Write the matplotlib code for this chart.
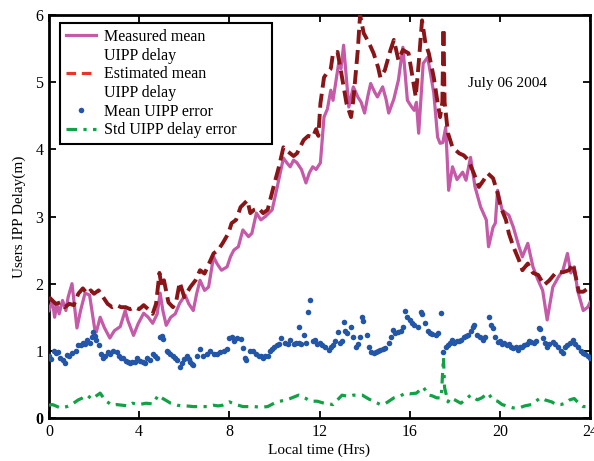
import matplotlib
matplotlib.use("Agg")
import matplotlib.pyplot as plt
from matplotlib.lines import Line2D

# ---------------- data ----------------
meas_t = [0.0, 0.15, 0.25, 0.35, 0.45, 0.6, 0.75, 0.85, 1.02, 1.24, 1.4, 1.6, 1.8, 2.04, 2.1, 2.27, 2.45, 2.7, 2.9,
          3.16, 3.38, 3.5, 3.75, 3.95, 4.2, 4.4, 4.6, 4.8, 4.93, 5.05, 5.2, 5.4, 5.6, 5.8, 6.04, 6.2, 6.4, 6.55, 6.7,
          6.9, 7.08, 7.3, 7.45, 7.65, 7.9, 8.05, 8.2, 8.4, 8.6, 8.85, 9.0, 9.2, 9.4, 9.6, 9.9, 10.1, 10.4, 10.55,
          10.7, 10.85, 11.0, 11.2, 11.4, 11.55, 11.7, 11.85, 12.04, 12.2, 12.35, 12.5, 12.6, 12.85, 12.95, 13.07,
          13.3, 13.5, 13.7, 13.85, 14.0, 14.15, 14.27, 14.45, 14.57, 14.8, 14.95, 15.07, 15.3, 15.5, 15.7, 15.9,
          16.05, 16.2, 16.3, 16.4, 16.6, 16.8, 17.07, 17.24, 17.35, 17.47, 17.6, 17.73, 17.9, 18.1, 18.35, 18.5,
          18.7, 18.9, 19.15, 19.4, 19.5, 19.7, 19.8, 19.9, 20.1, 20.27, 20.4, 20.6, 20.85, 21.0, 21.24, 21.47,
          21.7, 21.9, 22.1, 22.35, 22.6, 22.8, 23.0, 23.15, 23.3, 23.45, 23.7, 23.9, 24.0]
meas_v = [1.6, 1.75, 1.5, 1.7, 1.55, 1.75, 1.6, 1.8, 2.0, 1.34, 1.6, 1.86, 1.83, 1.3, 1.28, 1.5, 1.35, 1.19, 1.3,
          1.36, 1.6, 1.45, 1.23, 1.4, 1.56, 1.5, 1.41, 1.55, 1.86, 1.6, 1.38, 1.5, 1.55, 1.71, 1.83, 1.7, 1.6, 1.85,
          2.05, 1.9, 1.95, 2.4, 2.3, 2.2, 2.25, 2.4, 2.5, 2.55, 2.8, 2.7, 2.75, 3.05, 2.95, 3.0, 3.1, 3.4, 3.87, 3.8,
          3.74, 3.84, 3.8, 3.7, 3.5, 3.65, 3.74, 3.7, 3.8, 4.48, 4.6, 4.88, 4.73, 5.28, 5.2, 5.55,
          4.63, 4.93, 4.78, 4.7, 4.54, 4.8, 4.98, 4.85, 4.78, 4.93, 4.75, 4.54, 4.75, 5.03, 5.52, 4.73,
          4.65, 4.58, 4.7, 4.24, 5.28, 5.37, 4.84, 4.18, 4.09, 4.1, 4.33, 3.39, 3.74, 3.55, 3.66, 3.54,
          3.88, 3.44, 3.14, 2.95, 2.55, 2.84, 2.9, 3.39, 3.1, 3.05, 3.02, 2.84, 2.55, 2.4, 2.6, 2.25,
          2.05, 1.9, 1.46, 1.95, 2.1, 2.2, 2.45, 2.16, 2.25, 1.9, 1.6, 1.65, 1.72]

est_t = [0.0, 0.15, 0.3, 0.5, 0.7, 0.9, 1.1, 1.3, 1.5, 1.7, 1.85, 2.0, 2.2, 2.44, 2.6, 2.8, 3.0, 3.2, 3.4, 3.6, 3.8,
         4.0, 4.2, 4.4, 4.6, 4.75, 4.9, 5.0, 5.1, 5.3, 5.5, 5.65, 5.8, 6.0, 6.27, 6.5, 6.7, 6.9, 7.1, 7.3, 7.5,
         7.7, 7.96, 8.1, 8.3, 8.5, 8.8, 8.93, 9.1, 9.3, 9.5, 9.7, 9.96, 10.2, 10.4, 10.55, 10.7, 10.85, 11.0,
         11.3, 11.5, 11.7, 11.85, 11.95, 12.04, 12.2, 12.35, 12.5, 12.6, 12.8, 13.0, 13.2, 13.4, 13.5, 13.7,
         13.8, 13.96, 14.2, 14.4, 14.6, 14.7, 14.9, 15.15, 15.3, 15.5, 15.7, 15.95, 16.1, 16.27, 16.4, 16.55,
         16.7, 16.85, 17.07, 17.2, 17.35, 17.45, 17.5, 17.55, 17.7, 17.9, 18.2, 18.4, 18.6, 18.85, 19.07, 19.3,
         19.47, 19.7, 19.9, 20.04, 20.27, 20.4, 20.6, 20.85, 21.0, 21.24, 21.47, 21.7, 21.96, 22.2, 22.5, 22.8,
         23.07, 23.24, 23.4, 23.5, 23.7, 24.0]
est_v = [1.8, 1.75, 1.7, 1.72, 1.65, 1.7, 1.68, 1.85, 1.93, 1.85, 1.9, 1.85, 1.9, 1.78, 1.7, 1.65, 1.68, 1.65, 1.65,
         1.62, 1.65, 1.62, 1.68, 1.62, 1.55, 1.7, 2.16, 1.95, 2.05, 1.72, 1.65, 1.75, 2.02, 1.8, 1.95, 2.05, 2.2,
         2.15, 2.3, 2.45, 2.5, 2.6, 2.75, 2.9, 2.95, 3.14, 3.24, 3.05, 3.1, 3.12, 3.05, 3.1, 3.44, 3.74, 4.03,
         3.98, 3.94, 3.9, 3.94, 4.14, 4.2, 4.18, 4.3, 4.2, 4.68, 5.07, 5.15, 5.2, 5.43, 5.45, 5.07, 4.68, 4.48,
         4.73, 5.48, 6.0, 5.73, 5.58, 5.43, 5.22, 5.07, 5.18, 5.48, 5.63, 5.33, 5.48, 5.43, 5.13, 4.78, 5.28,
         5.92, 5.58, 5.43, 5.07, 4.78, 4.48, 4.7, 5.8, 4.7, 4.24, 4.03, 3.94, 3.91, 3.84, 3.64, 3.44, 3.55, 3.64,
         3.57, 3.35, 3.14, 2.95, 2.75, 2.55, 2.35, 2.2, 2.3, 2.16, 2.13, 1.98, 2.05, 2.17, 2.17, 2.2, 2.3, 2.05,
         1.88, 1.88, 1.95]

err_t = [0.0, 0.1, 0.2, 0.3, 0.4, 0.5, 0.6, 0.7, 0.8, 0.9, 1.0, 1.2, 1.3, 1.4, 1.5, 1.6, 1.7, 1.8, 1.9, 1.96, 2.05,
         2.1, 2.2, 2.3, 2.4, 2.5, 2.6, 2.7, 2.85, 3.0, 3.1, 3.2, 3.3, 3.4, 3.5, 3.6, 3.7, 3.8, 3.9, 4.05, 4.15,
         4.25, 4.35, 4.5, 4.63, 4.7, 4.8, 4.93, 5.0, 5.07, 5.24, 5.3, 5.38, 5.5, 5.6, 5.7, 5.82, 5.9, 5.97, 6.1,
         6.2, 6.27, 6.35, 6.4, 6.56, 6.7, 6.85, 7.0, 7.15, 7.3, 7.46, 7.6, 7.75, 7.9, 8.0, 8.1, 8.2, 8.34, 8.5,
         8.6, 8.7, 8.75, 8.93, 9.07, 9.2, 9.3, 9.4, 9.5, 9.6, 9.7, 9.8, 9.9, 10.0, 10.1, 10.2, 10.3, 10.45, 10.6,
         10.7, 10.85, 10.95, 11.07, 11.1, 11.2, 11.3, 11.4, 11.5, 11.6, 11.7, 11.8, 11.9, 12.0, 12.1, 12.25, 12.4,
         12.5, 12.6, 12.7, 12.8, 12.9, 13.0, 13.07, 13.15, 13.24, 13.4, 13.5, 13.6, 13.7, 13.8, 13.9, 13.95, 14.1,
         14.2, 14.3, 14.4, 14.5, 14.6, 14.7, 14.8, 14.9, 15.07, 15.15, 15.24, 15.35, 15.47, 15.6, 15.7, 15.8, 15.9,
         16.0, 16.1, 16.2, 16.35, 16.5, 16.55, 16.7, 16.8, 16.9, 17.0, 17.15, 17.25, 17.4, 17.5, 17.6, 17.7, 17.8,
         17.9, 17.97, 18.1, 18.2, 18.27, 18.4, 18.5, 18.57, 18.7, 18.8, 18.86, 19.0, 19.1, 19.24, 19.35, 19.5,
         19.6, 19.7, 19.8, 19.9, 20.0, 20.1, 20.2, 20.3, 20.4, 20.5, 20.6, 20.7, 20.8, 20.9, 21.0, 21.07, 21.2,
         21.3, 21.4, 21.5, 21.6, 21.75, 21.8, 21.9, 22.0, 22.1, 22.2, 22.35, 22.45, 22.6, 22.7, 22.8, 22.9, 23.0,
         23.1, 23.24, 23.35, 23.47, 23.6, 23.7, 23.8, 23.9, 24.0]
err_v = [0.92, 0.88, 1.0, 0.97, 0.98, 0.9, 0.86, 0.82, 0.94, 0.92, 0.97, 1.0, 1.09, 1.08, 1.12, 1.1, 1.16, 1.12, 1.2,
         1.28, 1.22, 1.16, 1.09, 0.95, 0.9, 0.93, 0.98, 0.95, 1.0, 0.98, 0.93, 0.9, 0.89, 0.85, 0.83, 0.82, 0.84,
         0.84, 0.89, 0.85, 0.84, 0.82, 0.89, 0.87, 0.96, 0.92, 0.9, 1.2, 1.22, 1.18, 1.0, 0.98, 0.96, 0.92, 0.9,
         0.87, 0.76, 0.82, 0.88, 0.92, 0.88, 0.84, 0.8, 0.79, 0.93, 1.02, 0.92, 0.96, 1.0, 0.96, 0.95, 0.98, 1.0,
         1.03, 1.19, 1.2, 1.15, 1.19, 1.18, 1.04, 0.89, 0.86, 1.0, 1.0, 0.95, 0.93, 0.93, 0.9, 0.93, 0.92, 1.0,
         1.02, 1.05, 1.09, 1.1, 1.19, 1.12, 1.1, 1.16, 1.1, 1.12, 1.36, 1.12, 1.1, 1.23, 1.12, 1.58, 1.75, 1.15,
         1.16, 1.1, 1.12, 1.09, 1.05, 1.01, 1.05, 1.09, 1.15, 1.28, 1.12, 1.15, 1.43, 1.3, 1.26, 1.36, 1.2, 1.06,
         1.1, 1.2, 1.5, 1.45, 1.23, 1.05, 0.98, 0.97, 0.99, 1.0, 1.01, 1.02, 1.04, 1.12, 1.2, 1.31, 1.26, 1.28,
         1.3, 1.36, 1.6, 1.5, 1.46, 1.42, 1.38, 1.36, 1.58, 1.55, 1.41, 1.3, 1.26, 1.25, 1.23, 1.26, 1.56, 0.98,
         1.05, 1.09, 1.12, 1.16, 1.12, 1.14, 1.15, 1.16, 1.2, 1.22, 1.23, 1.3, 1.35, 1.38, 1.23, 1.2, 1.16, 1.2,
         1.5, 1.38, 1.34, 1.2, 1.13, 1.15, 1.1, 1.12, 1.08, 1.1, 1.06, 1.04, 1.05, 1.01, 1.06, 1.05, 1.09, 1.1,
         1.15, 1.13, 1.12, 1.15, 1.34, 1.33, 1.19, 1.12, 1.06, 1.1, 1.13, 1.1, 1.06, 1.0, 0.97, 1.05, 1.09, 1.12,
         1.16, 1.1, 1.06, 1.0, 0.97, 0.95, 0.92, 0.89]

std_t = [0.0, 0.15, 0.3, 0.5, 0.8, 1.0, 1.3, 1.5, 1.7, 1.9, 2.1, 2.27, 2.5, 2.8, 3.0, 3.25, 3.5, 3.7, 4.0, 4.3, 4.6,
         4.85, 5.0, 5.15, 5.4, 5.7, 5.9, 6.1, 6.4, 6.7, 7.0, 7.3, 7.5, 7.7, 8.0, 8.3, 8.6, 8.9, 9.1, 9.4, 9.7,
         10.1, 10.4, 10.7, 11.07, 11.4, 11.6, 11.9, 12.2, 12.6, 13.0, 13.3, 13.5, 13.9, 14.2, 14.4, 14.7, 14.9,
         15.3, 15.6, 15.8, 16.0, 16.3, 16.6, 16.85, 17.0, 17.2, 17.4, 17.45, 17.5, 17.55, 17.7, 17.8, 18.0,
         18.27, 18.5, 18.7, 19.0, 19.2, 19.47, 19.7, 19.9, 20.1, 20.3, 20.6, 20.85, 21.1, 21.4, 21.6, 21.8,
         22.0, 22.3, 22.5, 22.7, 22.9, 23.1, 23.3, 23.5, 23.7, 24.0]
std_v = [0.19, 0.2, 0.18, 0.15, 0.17, 0.2, 0.27, 0.3, 0.34, 0.28, 0.33, 0.37, 0.26, 0.19, 0.2, 0.19, 0.18, 0.22,
         0.2, 0.22, 0.21, 0.34, 0.3, 0.27, 0.22, 0.19, 0.18, 0.18, 0.17, 0.17, 0.17, 0.19, 0.18, 0.19, 0.24, 0.2,
         0.17, 0.17, 0.17, 0.16, 0.17, 0.24, 0.26, 0.29, 0.34, 0.29, 0.25, 0.25, 0.22, 0.2, 0.34, 0.32, 0.34,
         0.34, 0.28, 0.25, 0.2, 0.21, 0.3, 0.33, 0.37, 0.36, 0.37, 0.46, 0.34, 0.33, 0.3, 0.3, 0.6, 0.9, 0.45,
         0.24, 0.3, 0.27, 0.22, 0.28, 0.34, 0.27, 0.3, 0.37, 0.27, 0.25, 0.2, 0.18, 0.15, 0.15, 0.18, 0.2, 0.25,
         0.3, 0.27, 0.24, 0.2, 0.2, 0.22, 0.27, 0.29, 0.22, 0.17, 0.17]

x_ticks = [0, 4, 8, 12, 16, 20, 24]
y_ticks = [0, 1, 2, 3, 4, 5, 6]
legend_labels = ["Measured mean", "UIPP delay", "Estimated mean", "UIPP delay",
                 "Mean UIPP error", "Std UIPP delay error"]
annotation = "July 06 2004"
x_label = "Local time (Hrs)"
y_label = "Users IPP Delay(m)"

# ---------------- style ----------------
plt.rcParams['font.family'] = ['Liberation Serif', 'DejaVu Serif']
PINK = "#c45aa8"
DARKRED = "#8a1518"
RED = "#e8342c"
BLUE = "#2456a8"
GREEN = "#12a245"

fig = plt.figure(figsize=(5.94, 4.61), dpi=100)
ax = fig.add_axes([49 / 594, 43 / 461, 541 / 594, 403 / 461])

ax.plot(meas_t, meas_v, color=PINK, lw=2.3, solid_joinstyle='round', zorder=3)
ax.plot(est_t, est_v, color=DARKRED, lw=2.8, dashes=(3.6, 1.6), zorder=4)
ax.plot(err_t, err_v, linestyle='none', marker='o', ms=4.0, mec='none', color=BLUE, zorder=3)
ax.plot(std_t, std_v, color=GREEN, lw=2.3, dashes=(3.3, 2.0, 1.0, 2.0), zorder=3)

ax.set_xlim(0, 24)
ax.set_ylim(0, 6)
ax.set_xticks(x_ticks)
ax.set_yticks(y_ticks)
ax.set_xticklabels([str(v) for v in x_ticks])
ax.set_yticklabels([str(v) for v in y_ticks])
ax.get_yticklabels()[0].set_fontweight('bold')
ax.tick_params(direction='in', length=5, width=1.3, top=True, right=True,
               labelsize=11.5, pad=4)
for s in ax.spines.values():
    s.set_linewidth(2.0)

ax.set_xlabel(x_label, fontsize=11, labelpad=3)
ax.set_ylabel(y_label, fontsize=11, labelpad=7)

ax.text(18.6, 4.98, annotation, fontsize=11, va='center', ha='left')

blank = Line2D([], [], linestyle='none')
handles = [Line2D([], [], color=PINK, lw=2.3), blank,
           Line2D([], [], color=RED, lw=2.3, dashes=(3.0, 1.8)), blank,
           Line2D([], [], linestyle='none', marker='o', ms=4.0, mec='none', color=BLUE),
           Line2D([], [], color=GREEN, lw=2.3, dashes=(3.3, 2.0, 1.0, 2.0))]
leg = ax.legend(handles, legend_labels, loc='upper left',
                bbox_to_anchor=(0.0203, 0.3, 0.392, 0.68), mode='expand',
                borderaxespad=0.0, fontsize=11.5, handlelength=1.9, handletextpad=0.5,
                labelspacing=0.17, borderpad=0.36, fancybox=False, frameon=True, framealpha=1)
leg.get_frame().set_edgecolor('black')
leg.get_frame().set_linewidth(1.5)

fig.savefig("out.png", dpi=100)
